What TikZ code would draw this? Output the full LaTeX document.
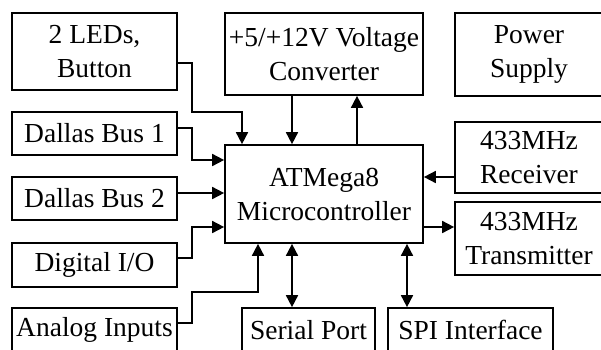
\documentclass[tikz,border=0pt]{standalone}
\usepackage{fontspec}
\setmainfont{Liberation Serif}
\usetikzlibrary{arrows.meta}
\begin{document}
\begin{tikzpicture}[x=1pt,y=-1pt,
  box/.style={draw,line width=1.7pt,inner sep=0pt,align=center,
    font=\fontsize{27.5}{34}\selectfont},
  arr/.style={line width=1.7pt,-{Triangle[length=12pt,width=12pt]}},
  darr/.style={line width=1.7pt,{Triangle[length=12pt,width=12pt]}-{Triangle[length=12pt,width=12pt]}}]
\useasboundingbox (0,0) rectangle (601,349);
\clip (0,0) rectangle (601,349);
\node[box,minimum width=165pt,minimum height=77pt] (leds) at (94.5,51.5) {2 LEDs,\\Button};
\node[box,minimum width=165pt,minimum height=43pt] (dal1) at (94.5,133.5) {Dallas Bus 1};
\node[box,minimum width=165pt,minimum height=43pt] (dal2) at (94.5,198.5) {Dallas Bus 2};
\node[box,minimum width=165pt,minimum height=44pt] (dio) at (94.5,265) {Digital I/O};
\node[box,minimum width=165pt,minimum height=44pt] (ana) at (94.5,330) {Analog Inputs};
\node[box,minimum width=198pt,minimum height=82pt] (conv) at (324,54) {+5/+12V Voltage\\Converter};
\node[box,minimum width=198pt,minimum height=98pt] (atm) at (324,194) {ATMega8\\Microcontroller};
\node[box,minimum width=148pt,minimum height=83pt] (pwr) at (529,54.5) {Power\\Supply};
\node[box,minimum width=148pt,minimum height=71pt] (rx) at (529,157.5) {433MHz\\Receiver};
\node[box,minimum width=148pt,minimum height=73pt] (tx) at (529,238.5) {433MHz\\Transmitter};
\node[box,minimum width=133pt,minimum height=44pt] (ser) at (308.5,330) {Serial Port};
\node[box,minimum width=165pt,minimum height=44pt] (spi) at (470.5,330) {SPI Interface};
\draw[arr] ([yshift=-11.5pt]leds.east) -| (192,112) -| ([xshift=-82pt]atm.north);
\draw[arr] ([xshift=-32pt]conv.south) -- ([xshift=-32pt]atm.north);
\draw[arr] ([xshift=33pt]atm.north) -- ([xshift=33pt]conv.south);
\draw[arr] ([yshift=5.5pt]dal1.east) -| (192,160) -- ([yshift=34pt]atm.west);
\draw[arr] ([yshift=5.5pt]dal2.east) -- ([yshift=1pt]atm.west);
\draw[arr] ([yshift=7pt]dio.east) -| (192,227) -- ([yshift=-33pt]atm.west);
\draw[arr] ([yshift=7pt]ana.east) -| (192,292) -| ([xshift=-66pt]atm.south);
\draw[darr] ([xshift=-32pt]atm.south) -- ([xshift=-16.5pt]ser.north);
\draw[darr] ([xshift=83pt]atm.south) -- ([xshift=-63.5pt]spi.north);
\draw[arr] ([yshift=-19.5pt]rx.west) -- ([yshift=17pt]atm.east);
\draw[arr] ([yshift=-33pt]atm.east) -- ([yshift=11.5pt]tx.west);
\end{tikzpicture}
\end{document}
